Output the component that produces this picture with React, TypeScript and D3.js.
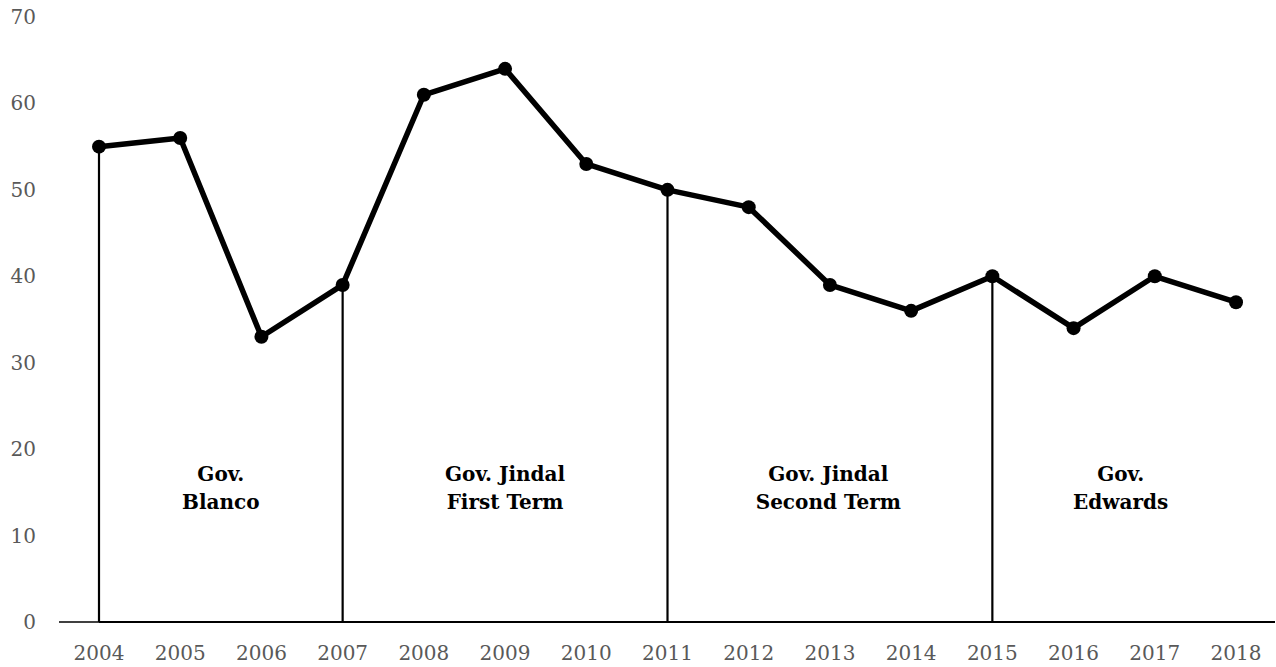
import React from "react";
import * as d3 from "d3";

const years = [2004, 2005, 2006, 2007, 2008, 2009, 2010, 2011, 2012, 2013, 2014, 2015, 2016, 2017, 2018];
const values = [55, 56, 33, 39, 61, 64, 53, 50, 48, 39, 36, 40, 34, 40, 37];
const yTicks = [0, 10, 20, 30, 40, 50, 60, 70];
const dividerYears = [2004, 2007, 2011, 2015];
const termLabels = [
  { pos: 2005.5, lines: ["Gov.", "Blanco"] },
  { pos: 2009.0, lines: ["Gov. Jindal", "First Term"] },
  { pos: 2012.98, lines: ["Gov. Jindal", "Second Term"] },
  { pos: 2016.58, lines: ["Gov.", "Edwards"] },
];

export default function App() {
  const W = 1276, H = 667;
  const x = d3.scaleLinear().domain([2004, 2018]).range([99, 1236]);
  const y = d3.scaleLinear().domain([0, 70]).range([622, 17]);
  const pts = years.map((yr, i) => [x(yr), y(values[i])] as [number, number]);
  const line = d3.line()(pts) as string;
  const font = "'DejaVu Serif', serif";
  return (
    <svg width={W} height={H} style={{ position: "absolute", left: 0, top: 0, background: "#fff" }}>
      {yTicks.map((t) => (
        <text key={t} x={36} y={y(t)} textAnchor="end" dominantBaseline="central" fontFamily={font} fontSize={20} fill="#595959">
          {t}
        </text>
      ))}
      {years.map((yr) => (
        <text key={yr} x={x(yr)} y={660} textAnchor="middle" fontFamily={font} fontSize={20} fill="#595959">
          {yr}
        </text>
      ))}
      <line x1={59} x2={1275} y1={y(0)} y2={y(0)} stroke="#000" strokeWidth={1.3} />
      <line x1={x(2004)} x2={1275} y1={y(0)} y2={y(0)} stroke="#000" strokeWidth={2.2} />
      {dividerYears.map((yr) => {
        const v = values[years.indexOf(yr)];
        return <line key={yr} x1={x(yr)} x2={x(yr)} y1={y(v)} y2={y(0)} stroke="#000" strokeWidth={2.2} />;
      })}
      <path d={line} fill="none" stroke="#000" strokeWidth={5.5} strokeLinejoin="round" />
      {pts.map((p, i) => (
        <circle key={i} cx={p[0]} cy={p[1]} r={7} fill="#000" />
      ))}
      {termLabels.map((l, i) => (
        <text key={i} x={x(l.pos)} y={481} textAnchor="middle" fontFamily={font} fontSize={20} fontWeight="bold" fill="#000">
          {l.lines.map((s, j) => (
            <tspan key={j} x={x(l.pos)} dy={j === 0 ? 0 : 27.5}>
              {s}
            </tspan>
          ))}
        </text>
      ))}
    </svg>
  );
}
